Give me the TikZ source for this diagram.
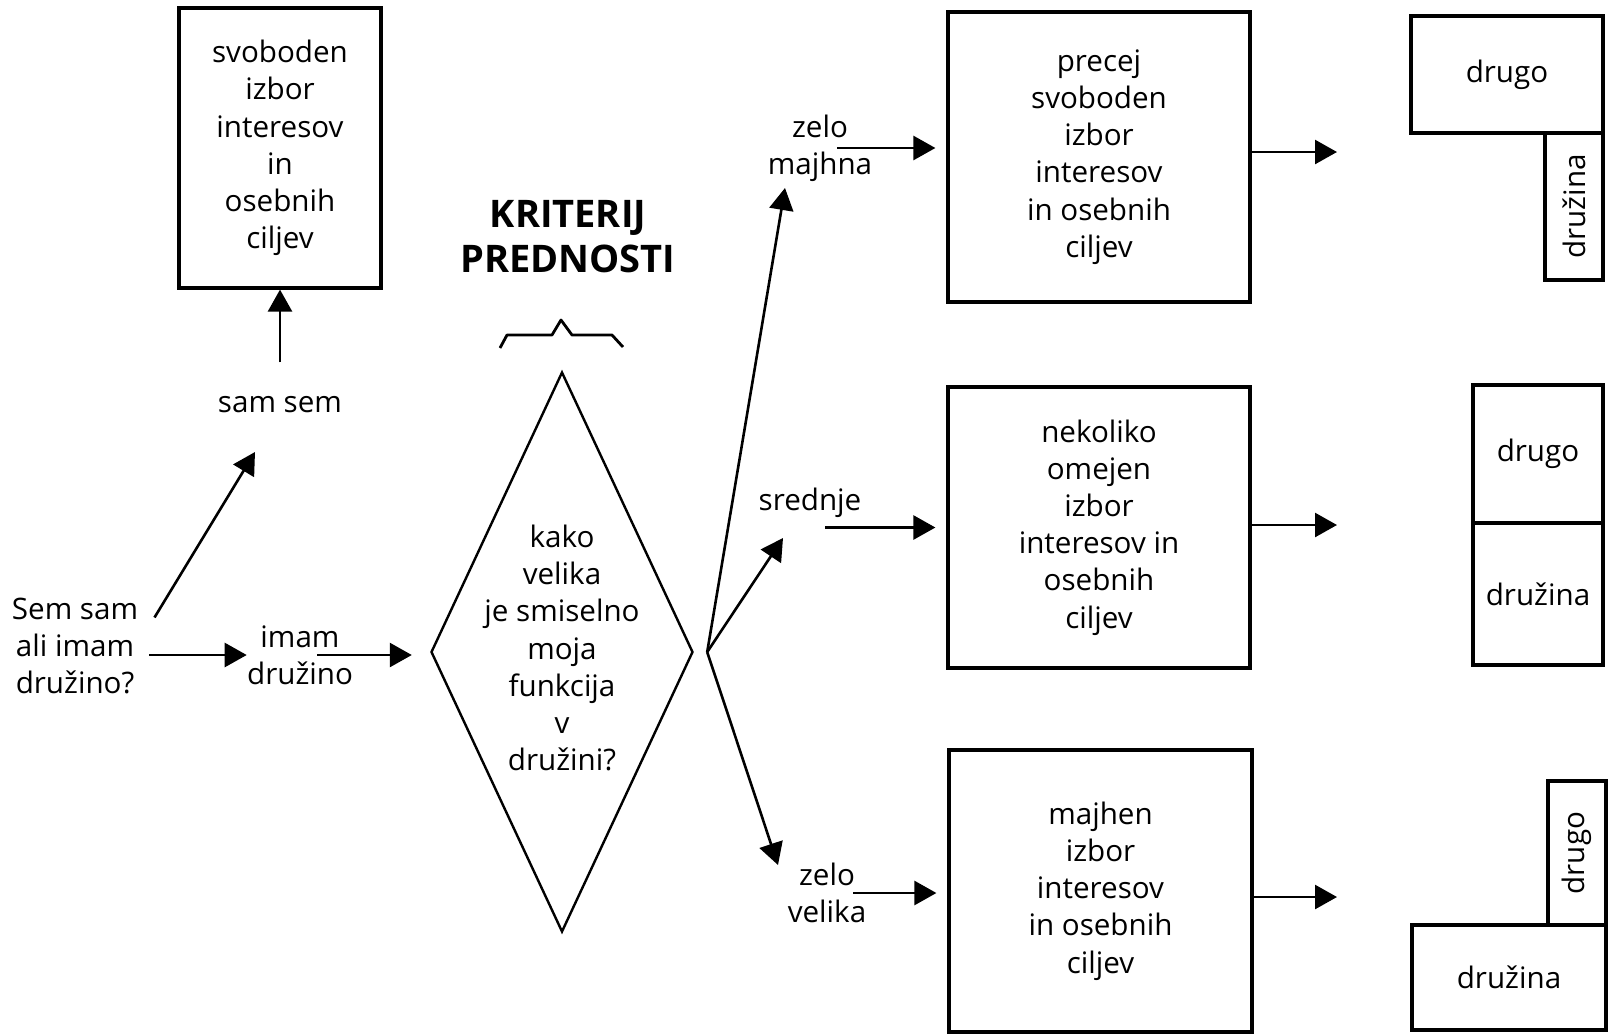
\documentclass[tikz,border=0pt]{standalone}
\usepackage{fontspec}
\setmainfont{Open Sans}
\usetikzlibrary{shapes.geometric,arrows.meta}

\tikzset{
  box/.style={draw, line width=1.6pt, align=center, inner sep=0pt},
  fig/.style={draw, line width=1.6pt, inner sep=0pt},
  lbl/.style={align=center, inner sep=0pt},
  arr/.style={-{Triangle[length=11pt,width=12pt]}, line width=1.3pt},
}

\begin{document}
\begin{tikzpicture}[x=0.5pt, y=-0.5pt, font=\fontsize{14.8}{18.6}\selectfont]
                        \useasboundingbox (0,0) rectangle (1612,1034);

                        % levo
                        \node[box, minimum width=101pt, minimum height=140pt] (svob) at (280,148) {svoboden\\izbor\\interesov\\in\\osebnih\\ciljev};
                        \node[lbl] (samsem) at (280,405) {sam sem};
                        \node[lbl] (q) at (75,646) {Sem sam\\ali imam\\družino?};
                        \node[lbl] (imam) at (300,655) {imam\\družino};

                        % kriterij
                        \node[lbl, font=\fontsize{19}{22.5}\bfseries] (kriterij) at (568,237) {KRITERIJ\\PREDNOSTI};
                        \draw[line width=1.4pt, line join=round] (500,348) -- (507,335) -- (552,335) -- (561,320) -- (572,335) -- (612,335) -- (623,347);
                        \node[diamond, draw, line width=1.2pt, minimum width=131pt, minimum height=280pt, inner sep=0pt] (odl) at (562,652) {};
                        \node[lbl] (odltxt) at (562,648) {kako\\velika\\je smiselno\\moja\\funkcija\\v\\družini?};

                        % desno
                        \node[lbl] (zm) at (820,148) {zelo\\majhna};
                        \node[lbl] (sr) at (810,503) {srednje};
                        \node[lbl] (zv) at (827,893) {zelo\\velika};

                        \node[box, minimum width=151pt, minimum height=145pt] (boxA) at (1099,157) {precej\\svoboden\\izbor\\interesov\\in osebnih\\ciljev};
                        \node[box, minimum width=151pt, minimum height=140.5pt] (boxB) at (1099,527.5) {nekoliko\\omejen\\izbor\\interesov in\\osebnih\\ciljev};
                        \node[box, minimum width=151.5pt, minimum height=141pt] (boxC) at (1100.5,891) {majhen\\izbor\\interesov\\in osebnih\\ciljev};

                        \node[fig, minimum width=96pt, minimum height=58.5pt] (drugoA) at (1507,74.5) {drugo};
                        \node[fig, rotate=90, minimum width=73.5pt, minimum height=29pt] (druzinaA) at (1574,206.5) {družina};
                        \node[fig, minimum width=65pt, minimum height=69pt] (drugoB) at (1538,454) {drugo};
                        \node[fig, minimum width=65pt, minimum height=71pt] (druzinaB) at (1538,594) {družina};
                        \node[fig, rotate=90, minimum width=72pt, minimum height=29pt] (drugoC) at (1577,853) {drugo};
                        \node[fig, minimum width=97pt, minimum height=52.5pt] (druzinaC) at (1509,977.5) {družina};

                        \coordinate (tA) at (1337,152);
                        \coordinate (tB) at (1337,525);
                        \coordinate (tC) at (1337,897);

                        % puscice
                        \draw[arr] ([shift={(16,20)}]q.north east) -- ([shift={(-25,47)}]samsem.center);
                        \draw[arr, shorten <=5.5pt] (q.east |- imam.west) -- (imam.west);
                        \draw[arr, shorten <=8.5pt, shorten >=9pt] (imam.center) -- (imam.center -| odl.west);
                        \draw[arr, shorten <=17pt] (samsem.north) -- (svob.south);

                        \draw[arr] ([xshift=6.5pt]odl.east) -- ([shift={(-35,40)}]zm.center);
                        \draw[arr] ([xshift=6.5pt]odl.east) -- ([shift={(-27,35)}]sr.center);
                        \draw[arr] ([xshift=6.5pt]odl.east) -- ([shift={(-49,-28)}]zv.center);

                        \draw[arr, shorten <=8.5pt, shorten >=5.5pt] (zm.center) -- (zm.center -| boxA.west);
                        \draw[arr, shorten <=7.5pt, shorten >=5.5pt] (sr.center |- boxB.west) -- (boxB.west);
                        \draw[arr, shorten <=13pt, shorten >=5.5pt] (zv.center) -- (zv.center -| boxC.west);

                        \draw[arr] (boxA.east |- tA) -- (tA);
                        \draw[arr] (boxB.east |- tB) -- (tB);
                        \draw[arr] (boxC.east |- tC) -- (tC);
                    \end{tikzpicture}
\end{document}
